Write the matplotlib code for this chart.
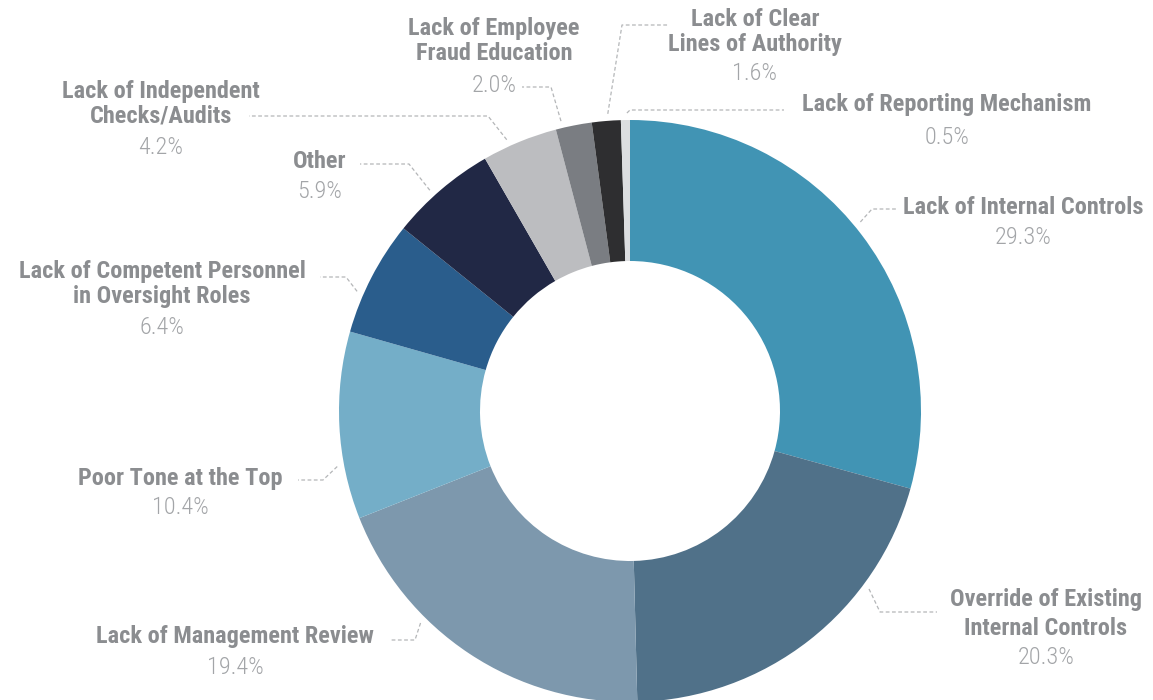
import matplotlib.pyplot as plt
import numpy as np
from matplotlib import font_manager

# share of cases, clockwise from 12 o'clock
categories = [
    "Lack of Internal Controls",
    "Override of Existing\nInternal Controls",
    "Lack of Management Review",
    "Poor Tone at the Top",
    "Lack of Competent Personnel\nin Oversight Roles",
    "Other",
    "Lack of Independent\nChecks/Audits",
    "Lack of Employee\nFraud Education",
    "Lack of Clear\nLines of Authority",
    "Lack of Reporting Mechanism",
]
shares = [29.3, 20.3, 19.4, 10.4, 6.4, 5.9, 4.2, 2.0, 1.6, 0.5]

colors = ["#4194b4", "#507189", "#7d98ad", "#74aec8", "#2a5d8c",
          "#212845", "#bcbdc0", "#7a7d82", "#2e2e30", "#dcdee0"]

# label placement in pixels: text x, name y, percent y, line spacing
label_pos = [
    (1023, 208, 238, 1.1),
    (1046, 614, 658, 1.35),
    (235, 637, 668, 1.1),
    (180, 478, 507, 1.1),
    (162, 284, 327, 1.1),
    (320, 162, 192, 1.1),
    (161, 104, 148, 1.1),
    (494, 41, 85, 1.1),
    (755, 32, 73, 1.1),
    (947, 105, 137, 1.1),
]
# leader: where along the wedge it lands, then the knee and the far end
leader = [
    (0.48, (872, 209), (898, 209)),
    (0.29, (880, 612), (937, 612)),
    (0.66, (415, 640), (390, 640)),
    (0.29, (323, 480), (298, 480)),
    (0.34, (346, 277), (320, 277)),
    (0.42, (409, 164), (360, 164)),
    (0.36, (488, 116), (249, 116)),
    (0.19, (551, 87), (522, 87)),
    (0.57, (622, 25), (669, 25)),
    (0.67, (630, 110), (784, 110)),
]

# pick a narrow face if there is one, else plain DejaVu
installed = {(f.name, f.stretch) for f in font_manager.fontManager.ttflist}
names = {n for n, _ in installed}
font_kw = dict(family=["DejaVu Sans"], fontsize=13)
if "Roboto Condensed" in names:
    font_kw = dict(family=["Roboto Condensed", "DejaVu Sans"], fontsize=17.5)
elif "Liberation Sans Narrow" in names:
    font_kw = dict(family=["Liberation Sans Narrow", "DejaVu Sans"], fontsize=15)

name_color = "#8b8d90"
pct_color = "#a3a5a8"
line_color = "#b4b6b8"

fig = plt.figure(figsize=(11.53, 7), dpi=100)
ax = fig.add_axes([0, 0, 1, 1])

cx, cy = 630, 411
R = 291
wedges, _ = ax.pie(shares, colors=colors, startangle=-90, counterclock=True,
                   center=(cx, cy), radius=R,
                   wedgeprops=dict(width=141, linewidth=0))
ax.set_xlim(0, 1153)
ax.set_ylim(700, 0)
ax.set_aspect("equal")
ax.axis("off")

for w, name, val, (tx, ny, py, ls), (frac, knee, far) in zip(
        wedges, categories, shares, label_pos, leader):
    ang = np.deg2rad(w.theta1 + frac * (w.theta2 - w.theta1))
    ax0 = cx + (R + 7) * np.cos(ang)
    ay0 = cy + (R + 7) * np.sin(ang)
    ax.plot([ax0, knee[0], far[0]], [ay0, knee[1], far[1]], color=line_color,
            lw=0.9, ls=(0, (3, 2)))
    ax.text(tx, ny, name, ha="center", va="center", fontweight="bold",
            color=name_color, linespacing=ls, **font_kw)
    ax.text(tx, py, f"{val:.1f}%", ha="center", va="center", fontweight="light",
            color=pct_color, **font_kw)

fig.savefig("out.png", dpi=100, facecolor="white")
